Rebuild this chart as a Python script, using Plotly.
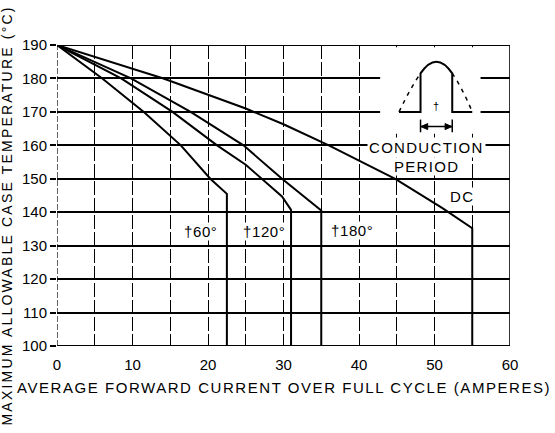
import plotly.graph_objects as go

# ---------------- data ----------------
x_tick_vals = [0, 10, 20, 30, 40, 50, 60]
x_tick_labels = ["0", "10", "20", "30", "40", "50", "60"]
y_tick_vals = [100, 110, 120, 130, 140, 150, 160, 170, 180, 190]
y_tick_labels = ["100", "110", "120", "130", "140", "150", "160", "170", "180", "190"]

series_names = ["60°", "120°", "180°", "DC"]
current_60 = [0, 6.0, 11.5, 16.4, 20.3, 22.5, 22.5]
temp_60 = [190, 180, 170, 160, 150, 145.5, 100]
current_120 = [0, 8.5, 15.3, 21.2, 25.0, 29.8, 31.0, 31.0]
temp_120 = [190, 180, 170, 160, 154.2, 144.7, 140.7, 100]
current_180 = [0, 9.8, 17.7, 24.7, 29.8, 35.0, 35.0]
temp_180 = [190, 180, 170, 160, 150, 140.5, 100]
current_dc = [0, 14.1, 25.0, 30.0, 36.0, 44.8, 51.0, 55.0, 55.0]
temp_dc = [190, 180, 171.0, 166.3, 160, 150, 141.3, 135.2, 100]

FONT = "Liberation Sans, Arial, sans-serif"


def spaced(text, px):
    return '<span style="letter-spacing:%spx">%s</span>' % (px, text)


fig = go.Figure()
for xs, ys, name in [(current_60, temp_60, series_names[0]),
                     (current_120, temp_120, series_names[1]),
                     (current_180, temp_180, series_names[2]),
                     (current_dc, temp_dc, series_names[3])]:
    fig.add_trace(go.Scatter(x=xs, y=ys, mode="lines", name=name,
                             line=dict(color="black", width=2),
                             showlegend=False, hoverinfo="skip"))

shapes = []
# white area behind inset diagram
shapes.append(dict(type="rect", xref="x", yref="y", x0=42.8, x1=56.1, y0=163.5, y1=189.3,
                   fillcolor="white", line=dict(width=0), layer="between"))
# frame
shapes.append(dict(type="line", xref="x", yref="y", x0=0, x1=60, y0=100, y1=100,
                   line=dict(color="black", width=2), layer="above"))
shapes.append(dict(type="line", xref="x", yref="y", x0=0, x1=60, y0=190, y1=190,
                   line=dict(color="black", width=2), layer="above"))
shapes.append(dict(type="line", xref="x", yref="y", x0=60, x1=60, y0=100, y1=190,
                   line=dict(color="black", width=1.6), layer="above"))
shapes.append(dict(type="line", xref="x", yref="y", x0=0, x1=0, y0=100, y1=190,
                   line=dict(color="black", width=1.2, dash="6px,2px"), layer="above"))
# inset waveform (conduction period)
shapes.append(dict(type="path", xref="x", yref="y",
                   path="M 45.3,170 L 48.15,170 L 48.15,181.5 Q 50.25,188.5 52.35,181.5 L 52.35,170 L 55,170",
                   line=dict(color="black", width=2), layer="above"))
shapes.append(dict(type="path", xref="x", yref="y",
                   path="M 45.3,170 Q 46.9,177.5 48.15,181.5",
                   line=dict(color="black", width=1.5, dash="4px,5px"), layer="above"))
shapes.append(dict(type="path", xref="x", yref="y",
                   path="M 52.35,181.5 Q 53.6,177.5 55,170",
                   line=dict(color="black", width=1.5, dash="4px,5px"), layer="above"))
# conduction period arrow
shapes.append(dict(type="line", xref="x", yref="y", x0=48.15, x1=52.35, y0=165.6, y1=165.6,
                   line=dict(color="black", width=1.5), layer="above"))
shapes.append(dict(type="line", xref="x", yref="y", x0=48.15, x1=48.15, y0=163.9, y1=167.7,
                   line=dict(color="black", width=1.5), layer="above"))
shapes.append(dict(type="line", xref="x", yref="y", x0=52.35, x1=52.35, y0=163.9, y1=167.7,
                   line=dict(color="black", width=1.5), layer="above"))
shapes.append(dict(type="path", xref="x", yref="y",
                   path="M 48.2,165.6 L 49.1,166.5 L 49.1,164.7 Z",
                   fillcolor="black", line=dict(color="black", width=1), layer="above"))
shapes.append(dict(type="path", xref="x", yref="y",
                   path="M 52.3,165.6 L 51.4,166.5 L 51.4,164.7 Z",
                   fillcolor="black", line=dict(color="black", width=1), layer="above"))

annotations = []
lab_font = dict(family=FONT, size=15, color="black")
for txt, xx, yy in [("†60°", 19.0, 134.3), ("†120°", 27.4, 134.3), ("†180°", 39.1, 134.5)]:
    annotations.append(dict(x=xx, y=yy, xref="x", yref="y", text=spaced(txt, 0.6), showarrow=False,
                            font=lab_font, bgcolor="white", borderpad=0))
annotations.append(dict(x=53.75, y=144.6, xref="x", yref="y", text=spaced("DC", 1.5), showarrow=False,
                        font=lab_font, bgcolor="white", borderpad=0))
annotations.append(dict(x=48.9, y=159.3, xref="x", yref="y", text=spaced("CONDUCTION", 1.3), showarrow=False,
                        font=lab_font, bgcolor="white", borderpad=1))
annotations.append(dict(x=48.9, y=153.7, xref="x", yref="y", text=spaced("PERIOD", 1.3), showarrow=False,
                        font=lab_font, bgcolor="white", borderpad=0))
annotations.append(dict(x=50.22, y=171.8, xref="x", yref="y", text="†", showarrow=False,
                        font=dict(family=FONT, size=11, color="black")))
# axis titles
annotations.append(dict(x=(284 - 57) / 453, y=(346 - 387.3) / 301, xref="paper", yref="paper",
                        text=spaced("AVERAGE FORWARD CURRENT OVER FULL CYCLE (AMPERES)", 1.55),
                        showarrow=False, xanchor="center", yanchor="middle",
                        font=dict(family=FONT, size=15, color="black")))
annotations.append(dict(x=(6.5 - 57) / 453, y=(346 - 216) / 301, xref="paper", yref="paper",
                        text=spaced("MAXIMUM ALLOWABLE CASE TEMPERATURE (°C)", 2.2),
                        showarrow=False, xanchor="center", yanchor="middle", textangle=-90,
                        font=dict(family=FONT, size=14, color="black")))

fig.update_layout(
    width=555, height=433,
    margin=dict(l=57, r=45, t=45, b=87, pad=0),
    paper_bgcolor="white", plot_bgcolor="white",
    shapes=shapes, annotations=annotations,
    xaxis=dict(range=[0, 60], tickvals=x_tick_vals, ticktext=x_tick_labels,
               showgrid=True, gridcolor="black", gridwidth=1, griddash="14px,3px",
               minor=dict(dtick=5, tick0=0, showgrid=True, gridcolor="black", gridwidth=1,
                          griddash="14px,3px"),
               zeroline=False, showline=False, ticks="outside", ticklen=5,
               tickcolor="rgba(0,0,0,0)",
               tickfont=dict(family=FONT, size=15, color="black"), fixedrange=True),
    yaxis=dict(range=[100, 190], tickvals=y_tick_vals, ticktext=y_tick_labels,
               showgrid=True, gridcolor="black", gridwidth=1.6,
               zeroline=False, showline=False, ticks="outside", ticklen=6, tickwidth=1.5,
               tickcolor="black",
               tickfont=dict(family=FONT, size=15, color="black"), fixedrange=True),
)

fig.write_html("out.html", config={"displayModeBar": False},
               post_script="document.body.style.margin='0';document.body.style.overflow='hidden';")
